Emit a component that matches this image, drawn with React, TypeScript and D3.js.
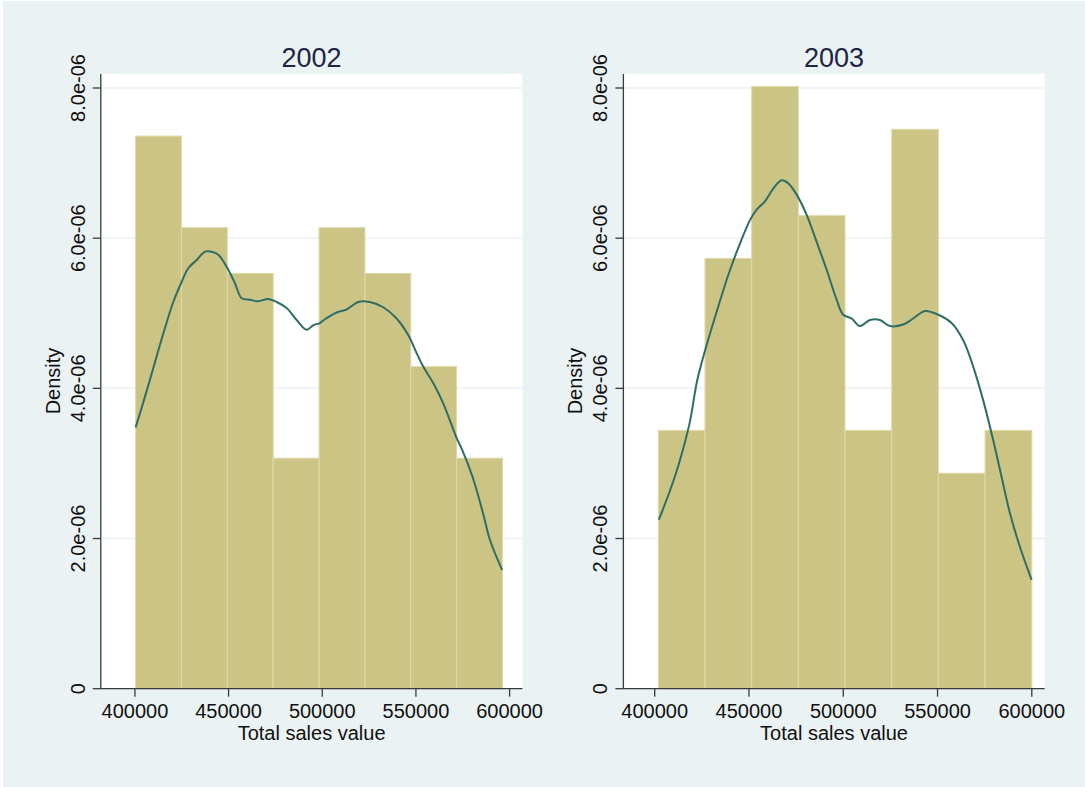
import React from "react";
import * as d3 from "d3";

// Histogram bins (density per unit of sales value)
const years = ["2002", "2003"];
const binStart2002 = 400370;
const binWidth2002 = 24480;
const density2002 = [7.36, 6.14, 5.53, 3.07, 6.14, 5.53, 4.29, 3.07]; // x 1e-6

const binStart2003 = 401900;
const binWidth2003 = 24760;
const density2003 = [3.44, 5.73, 8.02, 6.3, 3.44, 7.45, 2.87, 3.44]; // x 1e-6

// Kernel density estimates
const kdeX2002 = [
  400400, 405390, 409820, 415150, 420490, 424970, 428490, 432980, 437410, 440980,
  444500, 448980, 453410, 456990, 461420, 465850, 471180, 475670, 481000, 486340,
  491670, 495190, 498770, 501440, 507680, 513020, 519210, 525450, 532550, 539700,
  545880, 550370, 553890, 559230, 564560, 571710, 574700, 580250, 585800, 589530,
  596040,
];
const kdeY2002 = [
  3.48, 3.89, 4.27, 4.73, 5.15, 5.42, 5.6, 5.71, 5.82, 5.82,
  5.78, 5.62, 5.4, 5.2, 5.18, 5.16, 5.19, 5.15, 5.07, 4.91,
  4.78, 4.84, 4.87, 4.92, 5.01, 5.05, 5.15, 5.15, 5.08, 4.93,
  4.71, 4.47, 4.29, 4.07, 3.8, 3.34, 3.18, 2.82, 2.34, 1.98,
  1.58,
];

const kdeX2003 = [
  402200, 408270, 412880, 418450, 422590, 427570, 433720, 439020, 444320, 450530,
  454080, 458480, 462880, 467340, 470840, 475290, 480590, 485890, 491190, 496500,
  500000, 504450, 508850, 514150, 519460, 524760, 531810, 537110, 543310, 549520,
  557470, 563620, 568920, 574230, 579530, 583980, 588380, 593690, 599890,
];
const kdeY2003 = [
  2.25, 2.65, 3.0, 3.53, 4.11, 4.58, 5.09, 5.51, 5.87, 6.24,
  6.38, 6.49, 6.66, 6.77, 6.73, 6.58, 6.31, 5.95, 5.58, 5.18,
  4.98, 4.93, 4.83, 4.91, 4.91, 4.83, 4.85, 4.93, 5.03, 4.99,
  4.87, 4.64, 4.29, 3.84, 3.31, 2.82, 2.34, 1.89, 1.45,
];

const xTicks = [400000, 450000, 500000, 550000, 600000];
const yTicks = [0, 2e-6, 4e-6, 6e-6, 8e-6];
const yTickLabels = ["0", "2.0e-06", "4.0e-06", "6.0e-06", "8.0e-06"];
const xTitle = "Total sales value";
const yTitle = "Density";

const FONT = "'Liberation Sans', Arial, Helvetica, sans-serif";
const BG = "#EAF2F3";
const BAR = "#CCC485";
const BAR_EDGE = "#DEDAAA";
const LINE = "#2E6E66";
const AXIS = "#3a3a3a";

type PanelLayout = {
  frameLeft: number;
  frameRight: number;
  tickLeft: number;
  tickRight: number;
};

const panels: PanelLayout[] = [
  { frameLeft: 100.8, frameRight: 522.4, tickLeft: 134.9, tickRight: 509.6 },
  { frameLeft: 623.4, frameRight: 1044.7, tickLeft: 654.7, tickRight: 1031.8 },
];

const frameTop = 74;
const yBottom = 688.7;
const yTop = 88;

function Panel({
  layout,
  title,
  start,
  width,
  dens,
  kx,
  ky,
}: {
  layout: PanelLayout;
  title: string;
  start: number;
  width: number;
  dens: number[];
  kx: number[];
  ky: number[];
}) {
  const x = d3
    .scaleLinear()
    .domain([400000, 600000])
    .range([layout.tickLeft, layout.tickRight]);
  const y = d3.scaleLinear().domain([0, 8e-6]).range([yBottom, yTop]);

  const bins = dens.map((d, i) => ({
    x0: start + i * width,
    x1: start + (i + 1) * width,
    v: d * 1e-6,
  }));

  const pts: [number, number][] = kx.map((v, i) => [v, ky[i] * 1e-6]);
  const line = d3
    .line<[number, number]>()
    .x((d) => x(d[0]))
    .y((d) => y(d[1]))
    .curve(d3.curveCatmullRom.alpha(0.5));

  const { frameLeft, frameRight } = layout;
  const cx = (frameLeft + frameRight) / 2;

  return (
    <g>
      <rect
        x={frameLeft}
        y={frameTop}
        width={frameRight - frameLeft}
        height={yBottom - frameTop}
        fill="#ffffff"
      />
      {yTicks.slice(1).map((t) => (
        <line
          key={t}
          x1={frameLeft}
          x2={frameRight}
          y1={y(t)}
          y2={y(t)}
          stroke={BG}
          strokeWidth={1.5}
        />
      ))}
      {bins.map((b, i) => (
        <rect
          key={i}
          x={x(b.x0)}
          y={y(b.v)}
          width={x(b.x1) - x(b.x0)}
          height={y(0) - y(b.v)}
          fill={BAR}
          stroke={BAR_EDGE}
          strokeWidth={1}
        />
      ))}
      <path d={line(pts) || ""} fill="none" stroke={LINE} strokeWidth={2} />

      {/* axes */}
      <line x1={frameLeft} x2={frameLeft} y1={frameTop} y2={yBottom} stroke={AXIS} strokeWidth={1.3} />
      <line x1={frameLeft} x2={frameRight} y1={yBottom} y2={yBottom} stroke={AXIS} strokeWidth={1.3} />
      {yTicks.map((t, i) => (
        <g key={t}>
          <line x1={frameLeft - 8} x2={frameLeft} y1={y(t)} y2={y(t)} stroke={AXIS} strokeWidth={1.3} />
          <text
            transform={`translate(${frameLeft - 16},${y(t)}) rotate(-90)`}
            textAnchor="middle"
            fontFamily={FONT}
            fontSize={20}
            fill="#111"
          >
            {yTickLabels[i]}
          </text>
        </g>
      ))}
      {xTicks.map((t) => (
        <g key={t}>
          <line x1={x(t)} x2={x(t)} y1={yBottom} y2={yBottom + 8} stroke={AXIS} strokeWidth={1.3} />
          <text x={x(t)} y={718} textAnchor="middle" fontFamily={FONT} fontSize={20} fill="#111">
            {d3.format("d")(t)}
          </text>
        </g>
      ))}
      <text x={cx} y={740} textAnchor="middle" fontFamily={FONT} fontSize={20} fill="#111">
        {xTitle}
      </text>
      <text
        transform={`translate(${frameLeft - 41},381) rotate(-90)`}
        textAnchor="middle"
        fontFamily={FONT}
        fontSize={20}
        fill="#111"
      >
        {yTitle}
      </text>
      <text x={cx} y={66.5} textAnchor="middle" fontFamily={FONT} fontSize={27} fill="#1C2545">
        {title}
      </text>
    </g>
  );
}

export default function App() {
  return (
    <div style={{ position: "absolute", left: 0, top: 0 }}>
      <svg width={1085} height={787} style={{ display: "block" }}>
        <rect x={0} y={0} width={1085} height={787} fill="#ffffff" />
        <rect x={3} y={1} width={1082} height={786} fill={BG} />
        <Panel
          layout={panels[0]}
          title={years[0]}
          start={binStart2002}
          width={binWidth2002}
          dens={density2002}
          kx={kdeX2002}
          ky={kdeY2002}
        />
        <Panel
          layout={panels[1]}
          title={years[1]}
          start={binStart2003}
          width={binWidth2003}
          dens={density2003}
          kx={kdeX2003}
          ky={kdeY2003}
        />
      </svg>
    </div>
  );
}
